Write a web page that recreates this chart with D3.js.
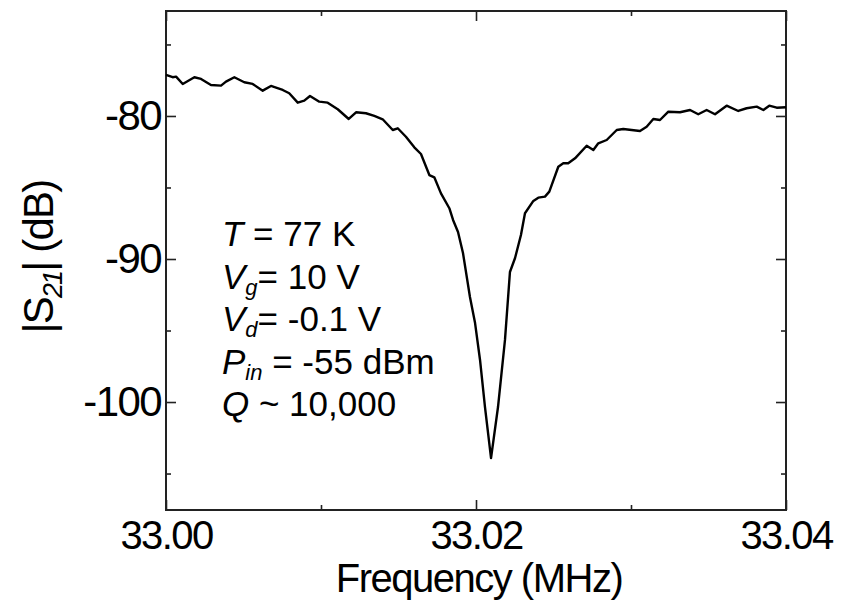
<!DOCTYPE html>
<html>
<head>
<meta charset="utf-8">
<script src="https://cdn.jsdelivr.net/npm/d3@7"></script>
<style>
  body { margin: 0; background: #fff; }
  svg { display: block; font-family: "Liberation Sans", Arial, Helvetica, sans-serif; }
</style>
</head>
<body>
<script>
// resonance sweep, |S21| in dB against frequency in MHz
const freq = [
  33.00000, 33.00043, 33.00065, 33.00108, 33.00183, 33.00226, 33.00290, 33.00355,
  33.00387, 33.00441, 33.00505, 33.00559, 33.00624, 33.00677, 33.00753, 33.00795,
  33.00850, 33.00892, 33.00929, 33.00989, 33.01043, 33.01108, 33.01179, 33.01226,
  33.01290, 33.01344, 33.01398, 33.01463, 33.01495, 33.01548, 33.01602, 33.01645,
  33.01699, 33.01731, 33.01774, 33.01828, 33.01852, 33.01884, 33.01916, 33.01961,
  33.01994, 33.02026, 33.02058, 33.02097, 33.02142, 33.02187, 33.02219, 33.02252,
  33.02290, 33.02316, 33.02370, 33.02402, 33.02445, 33.02473, 33.02531, 33.02563,
  33.02595, 33.02639, 33.02714, 33.02757, 33.02789, 33.02843, 33.02908, 33.02950,
  33.03058, 33.03101, 33.03144, 33.03187, 33.03241, 33.03316, 33.03381, 33.03434,
  33.03488, 33.03542, 33.03617, 33.03692, 33.03746, 33.03811, 33.03854, 33.03892,
  33.03940, 33.04000
];
const s21 = [
  -77.13, -77.29, -77.25, -77.76, -77.29, -77.41, -77.83, -77.88,
  -77.60, -77.29, -77.64, -77.76, -78.23, -77.90, -78.18, -78.41,
  -79.07, -78.93, -78.60, -79.00, -79.07, -79.53, -80.21, -79.74,
  -79.81, -80.00, -80.23, -80.98, -80.86, -81.45, -82.19, -82.66,
  -84.13, -84.29, -85.41, -86.45, -87.27, -88.11, -89.58, -92.66,
  -94.48, -97.06, -100.35, -103.92, -100.35, -95.66, -90.91, -89.93,
  -88.32, -86.80, -85.94, -85.71, -85.64, -85.29, -83.55, -83.31,
  -83.31, -82.96, -82.08, -82.38, -81.91, -81.68, -80.98, -80.91,
  -81.05, -80.75, -80.21, -80.28, -79.70, -79.74, -79.58, -79.88,
  -79.58, -79.88, -79.28, -79.65, -79.46, -79.35, -79.58, -79.28,
  -79.42, -79.39
];

const xMajor = [33.00, 33.02, 33.04];
const xMinor = [33.01, 33.03];
const yMajor = [-80, -90, -100];
const yMinor = [-75, -85, -95, -105];

// annotation: [symbol, subscript, rest]
const notes = [
  ["T", "", " = 77 K"],
  ["V", "g", "= 10 V"],
  ["V", "d", "= -0.1 V"],
  ["P", "in", " = -55 dBm"],
  ["Q", "", " ~ 10,000"]
];

const width = 854, height = 600;
const margin = {top: 11, right: 68, bottom: 90, left: 166};

const x = d3.scaleLinear()
    .domain([33.00, 33.04])
    .range([margin.left, width - margin.right]);

const y = d3.scaleLinear()
    .domain([-107.55, -72.66])
    .range([height - margin.bottom, margin.top]);

const svg = d3.select("body").append("svg")
    .attr("width", width)
    .attr("height", height);

const ink = "#222";
const big = 10, small = 5;

function style(g, size = 40) {
  g.select(".domain").remove();
  g.selectAll(".tick line").attr("stroke", ink).attr("stroke-width", 1.6);
  g.selectAll(".tick text")
      .attr("fill", "#000")
      .attr("font-size", size)
      .attr("letter-spacing", -1.6);
}

// bottom
svg.append("g")
    .attr("transform", `translate(0,${height - margin.bottom})`)
    .call(d3.axisBottom(x).tickValues(xMajor).tickSize(-big).tickPadding(11)
      .tickFormat(d3.format(".2f")))
    .call(style);
svg.append("g")
    .attr("transform", `translate(0,${height - margin.bottom})`)
    .call(d3.axisBottom(x).tickValues(xMinor).tickSize(-small).tickFormat(""))
    .call(style);
// top
svg.append("g")
    .attr("transform", `translate(0,${margin.top})`)
    .call(d3.axisTop(x).tickValues(xMajor).tickSize(-big).tickFormat(""))
    .call(style);
svg.append("g")
    .attr("transform", `translate(0,${margin.top})`)
    .call(d3.axisTop(x).tickValues(xMinor).tickSize(-small).tickFormat(""))
    .call(style);
// left
svg.append("g")
    .attr("transform", `translate(${margin.left},0)`)
    .call(d3.axisLeft(y).tickValues(yMajor).tickSize(-big).tickPadding(5)
      .tickFormat(d => String(d)))
    .call(style, 42);
svg.append("g")
    .attr("transform", `translate(${margin.left},0)`)
    .call(d3.axisLeft(y).tickValues(yMinor).tickSize(-small).tickFormat(""))
    .call(style);
// right
svg.append("g")
    .attr("transform", `translate(${width - margin.right},0)`)
    .call(d3.axisRight(y).tickValues(yMajor).tickSize(-big).tickFormat(""))
    .call(style);
svg.append("g")
    .attr("transform", `translate(${width - margin.right},0)`)
    .call(d3.axisRight(y).tickValues(yMinor).tickSize(-small).tickFormat(""))
    .call(style);

// frame
svg.append("rect")
    .attr("x", margin.left)
    .attr("y", margin.top)
    .attr("width", width - margin.left - margin.right)
    .attr("height", height - margin.top - margin.bottom)
    .attr("fill", "none")
    .attr("stroke", ink)
    .attr("stroke-width", 2);

const line = d3.line()
    .x((d, i) => x(freq[i]))
    .y(d => y(d));

svg.append("path")
    .datum(s21)
    .attr("fill", "none")
    .attr("stroke", "#000")
    .attr("stroke-width", 2.4)
    .attr("stroke-linejoin", "round")
    .attr("d", line);

// axis titles
svg.append("text")
    .attr("x", (margin.left + width - margin.right) / 2 + 3)
    .attr("y", 592)
    .attr("text-anchor", "middle")
    .attr("font-size", 40)
    .attr("letter-spacing", -1.5)
    .text("Frequency (MHz)");

const yt = svg.append("text")
    .attr("transform", "translate(53,257) rotate(-90)")
    .attr("text-anchor", "middle")
    .attr("font-size", 42)
    .attr("letter-spacing", -1.8);
yt.append("tspan").text("|S");
yt.append("tspan").attr("font-size", 27).attr("font-style", "italic").attr("dy", 9).text("21");
yt.append("tspan").attr("dy", -9).text("| (dB)");

// conditions
const note = svg.append("g").attr("font-size", 35);
notes.forEach((n, i) => {
  const t = note.append("text")
      .attr("x", 222)
      .attr("y", 246 + i * 42.5);
  t.append("tspan").attr("font-style", "italic").text(n[0]);
  if (n[1]) {
    t.append("tspan").attr("font-style", "italic").attr("font-size", 22).attr("dy", 6).text(n[1]);
    t.append("tspan").attr("dy", -6).text(n[2]);
  } else {
    t.append("tspan").text(n[2]);
  }
});
</script>
</body>
</html>
